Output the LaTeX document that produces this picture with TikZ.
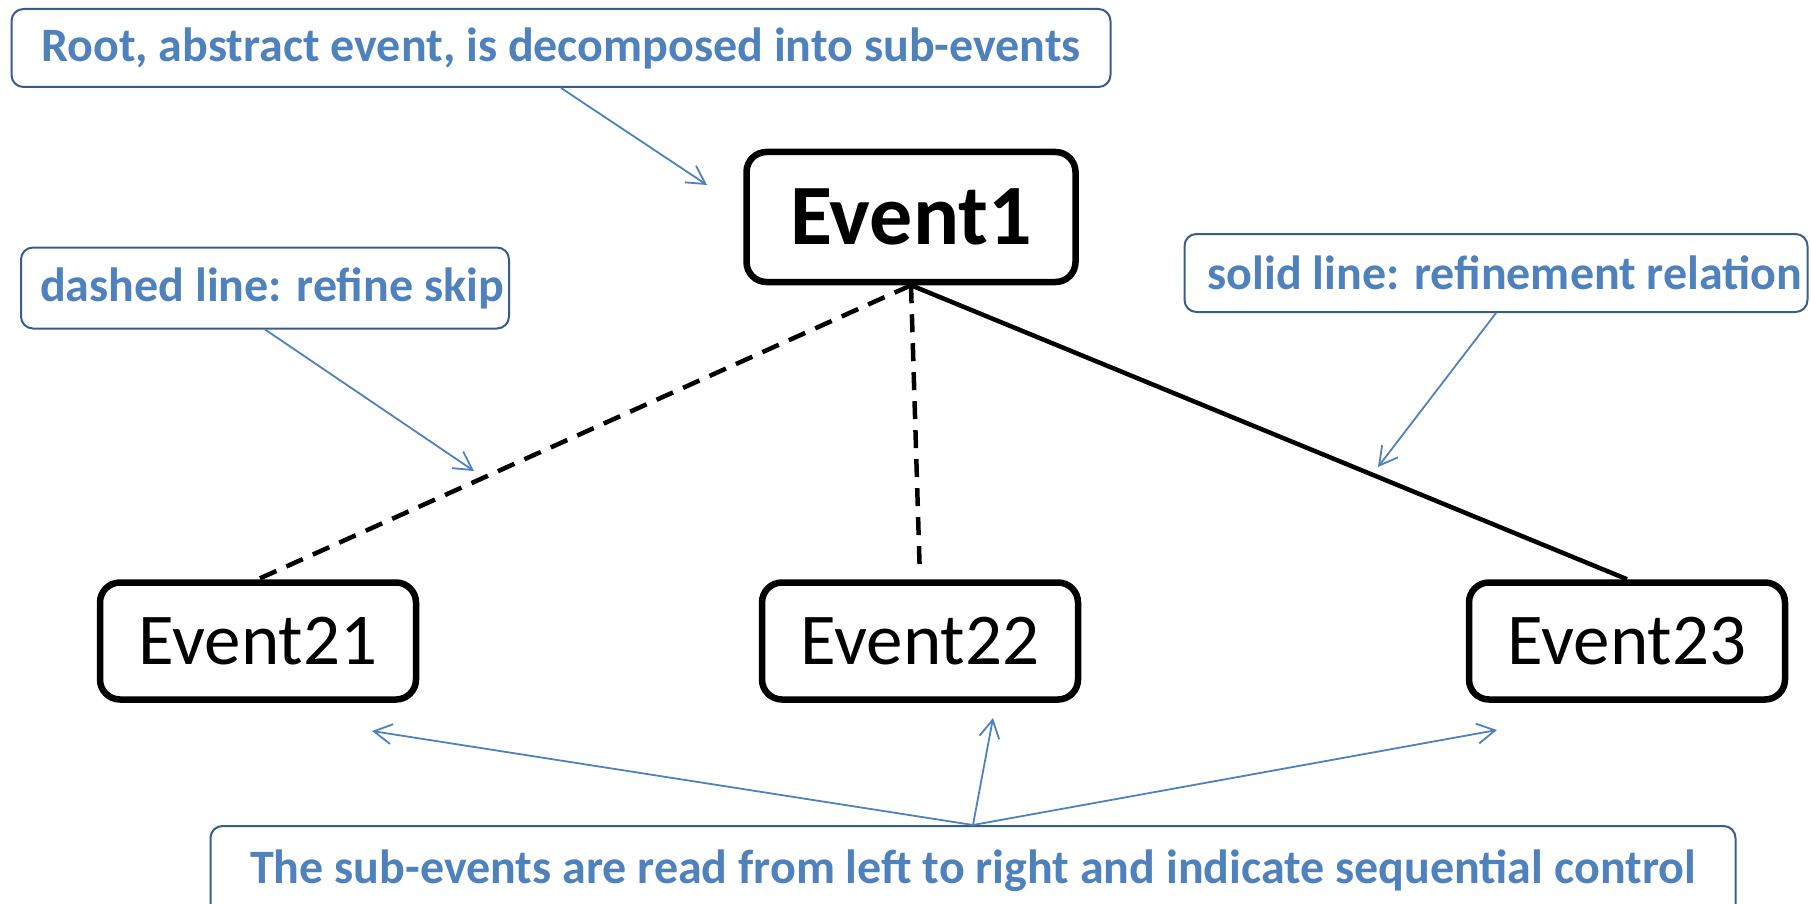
\documentclass[tikz,border=0pt]{standalone}
\usepackage{fontspec}
\setmainfont{Carlito}
\usetikzlibrary{arrows.meta}
\definecolor{noteblue}{HTML}{4F81BD}
\definecolor{noteframe}{HTML}{385D8A}

\begin{document}
\begin{tikzpicture}[x=1pt, y=-1pt,
  event/.style={draw, line width=6.5pt, rounded corners=20pt, inner sep=0pt,
    minimum width=316pt, minimum height=117pt, font=\fontsize{73}{80}\selectfont},
  note/.style={draw=noteframe, line width=2pt, rounded corners=12pt, inner sep=0pt,
    text=noteblue, font=\bfseries\fontsize{48}{56}\selectfont},
  pointer/.style={draw=noteblue, line width=1.8pt, -{Straight Barb[length=18pt,width=20pt]}},
  refine/.style={line width=4.5pt},
  skip/.style={line width=4.5pt, dash pattern=on 18pt off 11pt}]
\useasboundingbox (0,0) rectangle (1811,904);

% events
\node[event, font=\bfseries\fontsize{86}{94}\selectfont, minimum width=329pt, minimum height=130pt] (e1) at (911,217) {Event1};
\node[event] (e21) at (258,641) {Event21};
\node[event] (e22) at (920,641) {Event22};
\node[event] (e23) at (1627,641) {Event23};

\draw[skip] (e1.south) -- (e21.north);
\draw[skip, shorten >=12pt] (e1.south) -- (e22.north);
\draw[refine] (e1.south) -- (e23.north);

% notes
\node[note, minimum width=1099pt, minimum height=78pt] (root) at (561,48) {Root, abstract event, is decomposed into sub-events};
\node[note, minimum width=488pt, minimum height=81pt] (skipnote) at (265,288) {\hspace{14pt}dashed line: refine skip};
\node[note, minimum width=623pt, minimum height=78pt] (solidnote) at (1496,273) {\hspace{18pt}solid line: refinement relation};
\node[note, minimum width=1525pt, minimum height=90pt] (order) at (973,871) {The sub-events are read from left to right and indicate sequential control};

\coordinate (rootend) at (707,185);
\coordinate (skipend) at (474,471);
\coordinate (solidend) at (1378,467);
\coordinate (to21) at (372,731);
\coordinate (to22) at (993,718);
\coordinate (to23) at (1497,730);

\draw[pointer] (root.south) -- (rootend);
\draw[pointer] (skipnote.south) -- (skipend);
\draw[pointer] (solidnote.south) -- (solidend);
\foreach \t in {to21,to22,to23}
  \draw[pointer] (order.north) -- (\t);
\end{tikzpicture}
\end{document}
